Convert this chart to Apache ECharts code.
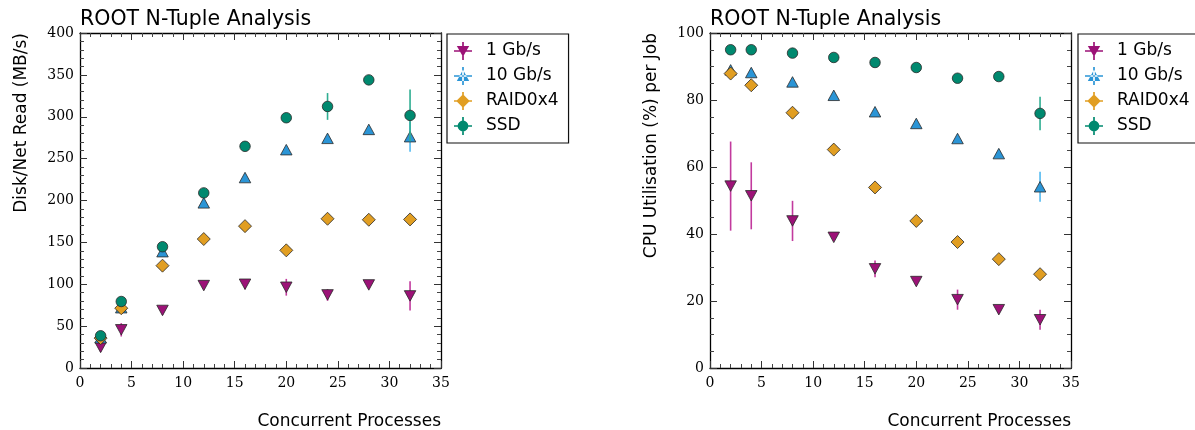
<!DOCTYPE html>
<html>
<head>
<meta charset="utf-8">
<script src="https://cdn.jsdelivr.net/npm/echarts@6/dist/echarts.min.js"></script>
<style>
html,body{margin:0;padding:0;background:#fff;}
#c{width:1195px;height:430px;}
</style>
</head>
<body>
<div id="c"></div>
<script>
// ---- data ----
const procs = [2, 4, 8, 12, 16, 20, 24, 28, 32];
const seriesNames = ['1 Gb/s', '10 Gb/s', 'RAID0x4', 'SSD'];

// Disk/Net Read (MB/s)
const readGb1     = [24.6, 45.6, 68.7, 98.4, 100.0, 96.4, 87.3, 99.2, 86.1];
const readGb1Err  = [5, 8, 5, 2, 6, 10, 7, 3, 17.5];
const readGb10    = [36, 72, 138.9, 197.2, 227.4, 260.7, 274.2, 284.9, 276.2];
const readGb10Err = [1, 2, 2, 2, 2, 2, 2, 2, 18];
const readRaid    = [35.7, 71.4, 122.2, 154.0, 169.4, 140.5, 178.2, 177.0, 177.4];
const readRaidErr = [1, 1, 2, 2, 2, 2, 2, 2, 2];
const readSsd     = [38.5, 79.4, 144.8, 209.1, 264.7, 298.8, 312.3, 344.0, 301.6];
const readSsdErr  = [1, 2, 2, 2, 2, 2, 16, 2, 31];

// CPU Utilisation (%) per Job
const cpuGb1      = [54.3, 51.4, 43.9, 39.0, 29.6, 25.8, 20.4, 17.4, 14.4];
const cpuGb1Err   = [13.3, 10, 6, 1, 2.5, 1, 3, 1, 3];
const cpuGb10     = [89.0, 88.2, 85.4, 81.4, 76.5, 73.0, 68.5, 64.0, 54.1];
const cpuGb10Err  = [0.5, 0.5, 0.5, 0.5, 0.5, 0.5, 0.5, 0.5, 4.5];
const cpuRaid     = [87.9, 84.4, 76.2, 65.2, 53.9, 43.9, 37.6, 32.5, 28.0];
const cpuRaidErr  = [0.5, 0.5, 0.5, 0.5, 0.5, 0.5, 0.5, 0.5, 0.5];
const cpuSsd      = [95.0, 95.0, 94.0, 92.7, 91.2, 89.7, 86.5, 87.0, 76.0];
const cpuSsdErr   = [0.5, 0.5, 0.5, 0.5, 0.5, 0.5, 0.5, 0.5, 5];

// ---- styles ----
const markerColors = ['#9c1277', '#2b95d6', '#e19e22', '#00896f'];
const errColors    = ['#c23a9e', '#52b9f0', '#eeb248', '#2fae92'];
const symbols = ['path://M0,0 L11,0 L5.5,10 Z', 'triangle', 'diamond', 'circle'];
const symbolSizes = [[11.5, 10.5], [11.5, 10.5], 13, 10.5];
const legendIcons = [
  'path://M2,9.25H18V10.75H2Z M9.25,2H10.75V18H9.25Z M4.5,5.5L15.5,5.5L10,15Z',
  'path://M2,9.25H18V10.75H2Z M9.25,2H10.75V18H9.25Z M4.5,14.5L15.5,14.5L10,4.5Z',
  'path://M2,9.25H18V10.75H2Z M9.25,2H10.75V18H9.25Z M10,4L16,10L10,16L4,10Z',
  'path://M2,9.25H18V10.75H2Z M9.25,2H10.75V18H9.25Z M10,5.2A4.8,4.8 0 1 1 9.99,5.2Z'
];

const readSets = [[readGb1, readGb1Err], [readGb10, readGb10Err], [readRaid, readRaidErr], [readSsd, readSsdErr]];
const cpuSets  = [[cpuGb1, cpuGb1Err], [cpuGb10, cpuGb10Err], [cpuRaid, cpuRaidErr], [cpuSsd, cpuSsdErr]];

const tickFont = { fontFamily: 'DejaVu Serif', fontSize: 14, color: '#000' };
const sansFont = 'DejaVu Sans';

function errRender(params, api) {
  const x = api.value(0), y = api.value(1), e = api.value(2);
  const p1 = api.coord([x, y - e]);
  const p2 = api.coord([x, y + e]);
  return {
    type: 'line',
    shape: { x1: p1[0], y1: p1[1], x2: p2[0], y2: p2[1] },
    style: { stroke: api.visual('color'), lineWidth: 1.6 }
  };
}

function makeSeries(sets, axisIdx) {
  const out = [];
  sets.forEach(function (s, i) {
    const vals = s[0], errs = s[1];
    out.push({
      type: 'custom',
      name: 'err' + axisIdx + '_' + i,
      xAxisIndex: axisIdx, yAxisIndex: axisIdx,
      renderItem: errRender,
      encode: { x: 0, y: 1 },
      itemStyle: { color: errColors[i] },
      data: procs.map(function (p, k) { return [p, vals[k], errs[k]]; }),
      z: 2 + i * 2,
      silent: true
    });
    out.push({
      type: 'scatter',
      name: seriesNames[i],
      xAxisIndex: axisIdx, yAxisIndex: axisIdx,
      symbol: symbols[i],
      symbolSize: symbolSizes[i],
      itemStyle: { color: markerColors[i], borderColor: '#2a2a2a', borderWidth: 0.8, opacity: 1 },
      data: procs.map(function (p, k) { return [p, vals[k]]; }),
      z: 3 + i * 2
    });
  });
  return out;
}

function xAxes(gridIdx) {
  const base = {
    type: 'value', gridIndex: gridIdx, min: 0, max: 35, interval: 5,
    axisLine: { show: true, onZero: false, lineStyle: { color: '#000', width: 1.3 } },
    axisTick: { show: true, inside: true, length: 7, lineStyle: { color: '#333', width: 1 } },
    minorTick: { show: true, splitNumber: 5, length: 4, lineStyle: { color: '#444', width: 1 } },
    splitLine: { show: false }
  };
  return [
    Object.assign({}, base, {
      position: 'bottom',
      axisLabel: Object.assign({ margin: 8 }, tickFont),
      name: 'Concurrent Processes',
      nameLocation: 'end', nameGap: 0,
      nameTextStyle: { fontFamily: sansFont, fontSize: 17, color: '#000', align: 'right', verticalAlign: 'top', padding: [45, 0, 0, 0] }
    }),
    Object.assign({}, base, { position: 'top', axisLabel: { show: false } })
  ];
}

function yAxes(gridIdx, max, interval, minorSplit, name) {
  const base = {
    type: 'value', gridIndex: gridIdx, min: 0, max: max, interval: interval,
    axisLine: { show: true, onZero: false, lineStyle: { color: '#000', width: 1.3 } },
    axisTick: { show: true, inside: true, length: 7, lineStyle: { color: '#333', width: 1 } },
    minorTick: { show: true, splitNumber: minorSplit, length: 4, lineStyle: { color: '#444', width: 1 } },
    splitLine: { show: false }
  };
  return [
    Object.assign({}, base, {
      position: 'left',
      axisLabel: Object.assign({ margin: 6 }, tickFont),
      name: name,
      nameLocation: 'end', nameGap: 0, nameRotate: 90,
      nameTextStyle: { fontFamily: sansFont, fontSize: 17, color: '#000', align: 'right', verticalAlign: 'bottom', padding: [0, 0, 50, 0] }
    }),
    Object.assign({}, base, { position: 'right', axisLabel: { show: false } })
  ];
}

function legendFor(left) {
  return {
    orient: 'vertical', left: left, top: 34,
    padding: [8, 10, 8, 7],
    itemWidth: 18, itemHeight: 18, itemGap: 7,
    borderColor: '#111', borderWidth: 1.2, borderRadius: 0,
    backgroundColor: '#fff',
    selectedMode: false,
    itemStyle: { borderWidth: 0 },
    textStyle: { fontFamily: sansFont, fontSize: 17, color: '#000', padding: [0, 0, 0, 9] },
    data: seriesNames.map(function (n, i) { return { name: n, icon: legendIcons[i] }; })
  };
}

const chart = echarts.init(document.getElementById('c'), null, { renderer: 'canvas' });
const xa = xAxes(0).concat(xAxes(1));
const ya = yAxes(0, 400, 50, 5, 'Disk/Net Read (MB/s)').concat(yAxes(1, 100, 20, 4, 'CPU Utilisation (%) per Job'));
// axis indices: x: 0 bottom-left,1 top-left,2 bottom-right,3 top-right; same for y
const series = makeSeries(readSets, 0).concat(makeSeries(cpuSets, 2));

const titleStyle = { fontFamily: sansFont, fontSize: 20.5, fontWeight: 'normal', color: '#000' };
chart.setOption({
  animation: false,
  backgroundColor: '#fff',
  title: [
    { text: 'ROOT N-Tuple Analysis', left: 80, top: 9, padding: 0, textStyle: titleStyle },
    { text: 'ROOT N-Tuple Analysis', left: 710, top: 9, padding: 0, textStyle: titleStyle }
  ],
  grid: [
    { left: 80, top: 33, width: 361, height: 336 },
    { left: 710, top: 33, width: 361, height: 336 }
  ],
  legend: [legendFor(447), legendFor(1078)],
  xAxis: xa,
  yAxis: ya,
  series: series
});
</script>
</body>
</html>
